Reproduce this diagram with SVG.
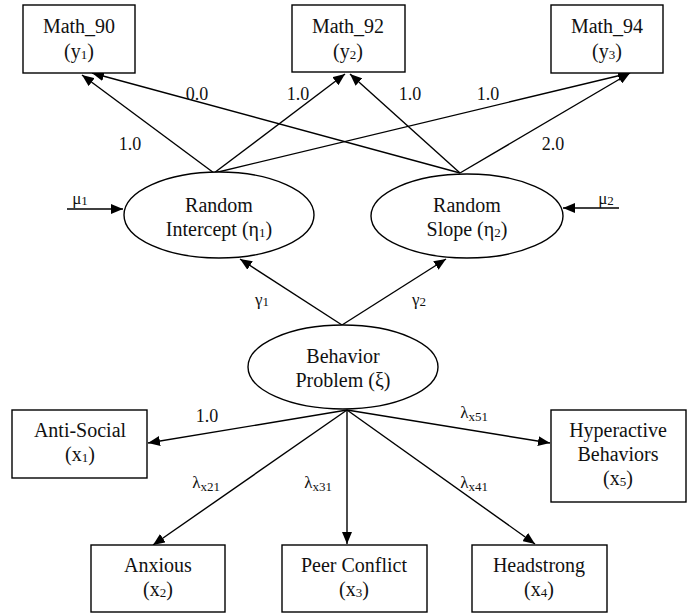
<svg xmlns="http://www.w3.org/2000/svg" width="691" height="614" viewBox="0 0 691 614">
<defs>
<marker id="ah" viewBox="0 0 12 10" refX="12" refY="5" markerWidth="12" markerHeight="10" markerUnits="userSpaceOnUse" orient="auto">
<path d="M0,0 L12,5 L0,10 Z" fill="#000"/>
</marker>
<style>
.box{fill:#fff;stroke:#000;stroke-width:1.4}
.ell{fill:#fff;stroke:#000;stroke-width:1.4}
text{font-family:'Liberation Serif','Times New Roman',Times,'DejaVu Serif',serif;fill:#111;text-anchor:middle}
.t{font-size:20px}
.lb{font-size:18px}
.gr{font-size:17px}
.sub{font-size:13px}
.c line{stroke:#000;stroke-width:1.4;marker-end:url(#ah)}
</style>
</defs>
<rect width="691" height="614" fill="#fff"/>
<g class="c" id="connectors">
<line x1="214" y1="173" x2="82" y2="75"/>
<line x1="214" y1="173" x2="345" y2="74"/>
<line x1="214" y1="173" x2="630" y2="73"/>
<line x1="460" y1="173" x2="92" y2="73"/>
<line x1="460" y1="173" x2="350" y2="74"/>
<line x1="460" y1="173" x2="630" y2="73"/>
<line x1="67" y1="209" x2="123" y2="209"/>
<line x1="619" y1="208" x2="563" y2="208"/>
<line x1="342" y1="325" x2="240" y2="259"/>
<line x1="342" y1="325" x2="446" y2="259"/>
<line x1="347" y1="410" x2="148" y2="443"/>
<line x1="347" y1="410" x2="153" y2="545"/>
<line x1="347" y1="410" x2="347" y2="544"/>
<line x1="347" y1="410" x2="535" y2="544"/>
<line x1="347" y1="410" x2="550" y2="443"/>
</g>
<g id="labels">
<text class="lb" x="130" y="150">1.0</text>
<text class="lb" x="197" y="100">0.0</text>
<text class="lb" x="298" y="100">1.0</text>
<text class="lb" x="410" y="100">1.0</text>
<text class="lb" x="488" y="100">1.0</text>
<text class="lb" x="553" y="150">2.0</text>
<text class="gr" x="80" y="204">μ<tspan class="sub" dy="1">1</tspan></text>
<text class="gr" x="606" y="204">μ<tspan class="sub" dy="1">2</tspan></text>
<text class="gr" x="262" y="305">γ<tspan class="sub" dy="1">1</tspan></text>
<text class="gr" x="419" y="305">γ<tspan class="sub" dy="1">2</tspan></text>
<text class="lb" x="207" y="422">1.0</text>
<text class="gr" x="206" y="488">λ<tspan class="sub" dy="3">x21</tspan></text>
<text class="gr" x="318" y="488">λ<tspan class="sub" dy="3">x31</tspan></text>
<text class="gr" x="474" y="488">λ<tspan class="sub" dy="3">x41</tspan></text>
<text class="gr" x="474" y="418">λ<tspan class="sub" dy="3">x51</tspan></text>
</g>
<g id="math90"><rect class="box" x="23" y="5" width="112" height="68"/><text class="t" x="79" y="33">Math_90</text><text class="t" x="79" y="58">(y<tspan class="sub" dy="1">1</tspan><tspan dy="-1">)</tspan></text></g>
<g id="math92"><rect class="box" x="292" y="5" width="113" height="67"/><text class="t" x="348" y="33">Math_92</text><text class="t" x="348" y="58">(y<tspan class="sub" dy="1">2</tspan><tspan dy="-1">)</tspan></text></g>
<g id="math94"><rect class="box" x="551" y="5" width="112" height="68"/><text class="t" x="607" y="33">Math_94</text><text class="t" x="607" y="58">(y<tspan class="sub" dy="1">3</tspan><tspan dy="-1">)</tspan></text></g>
<g id="intercept"><ellipse class="ell" cx="219" cy="215" rx="95" ry="43"/><text class="t" x="219" y="212">Random</text><text class="t" x="219" y="236">Intercept (η<tspan class="sub" dy="1">1</tspan><tspan dy="-1">)</tspan></text></g>
<g id="slope"><ellipse class="ell" cx="467" cy="216" rx="96" ry="42"/><text class="t" x="467" y="212">Random</text><text class="t" x="467" y="236">Slope (η<tspan class="sub" dy="1">2</tspan><tspan dy="-1">)</tspan></text></g>
<g id="behavior"><ellipse class="ell" cx="343" cy="367" rx="95" ry="42"/><text class="t" x="343" y="363">Behavior</text><text class="t" x="343" y="387">Problem (ξ)</text></g>
<g id="antisocial"><rect class="box" x="12" y="410" width="135" height="68"/><text class="t" x="80" y="437">Anti-Social</text><text class="t" x="80" y="461">(x<tspan class="sub" dy="1">1</tspan><tspan dy="-1">)</tspan></text></g>
<g id="anxious"><rect class="box" x="91" y="545" width="134" height="67"/><text class="t" x="158" y="572">Anxious</text><text class="t" x="158" y="596">(x<tspan class="sub" dy="1">2</tspan><tspan dy="-1">)</tspan></text></g>
<g id="peer"><rect class="box" x="282" y="545" width="145" height="67"/><text class="t" x="354" y="572">Peer Conflict</text><text class="t" x="354" y="596">(x<tspan class="sub" dy="1">3</tspan><tspan dy="-1">)</tspan></text></g>
<g id="headstrong"><rect class="box" x="472" y="545" width="135" height="67"/><text class="t" x="539" y="572">Headstrong</text><text class="t" x="539" y="596">(x<tspan class="sub" dy="1">4</tspan><tspan dy="-1">)</tspan></text></g>
<g id="hyperactive"><rect class="box" x="551" y="410" width="135" height="92"/><text class="t" x="618" y="437">Hyperactive</text><text class="t" x="618" y="461">Behaviors</text><text class="t" x="618" y="485">(x<tspan class="sub" dy="1">5</tspan><tspan dy="-1">)</tspan></text></g>
</svg>
